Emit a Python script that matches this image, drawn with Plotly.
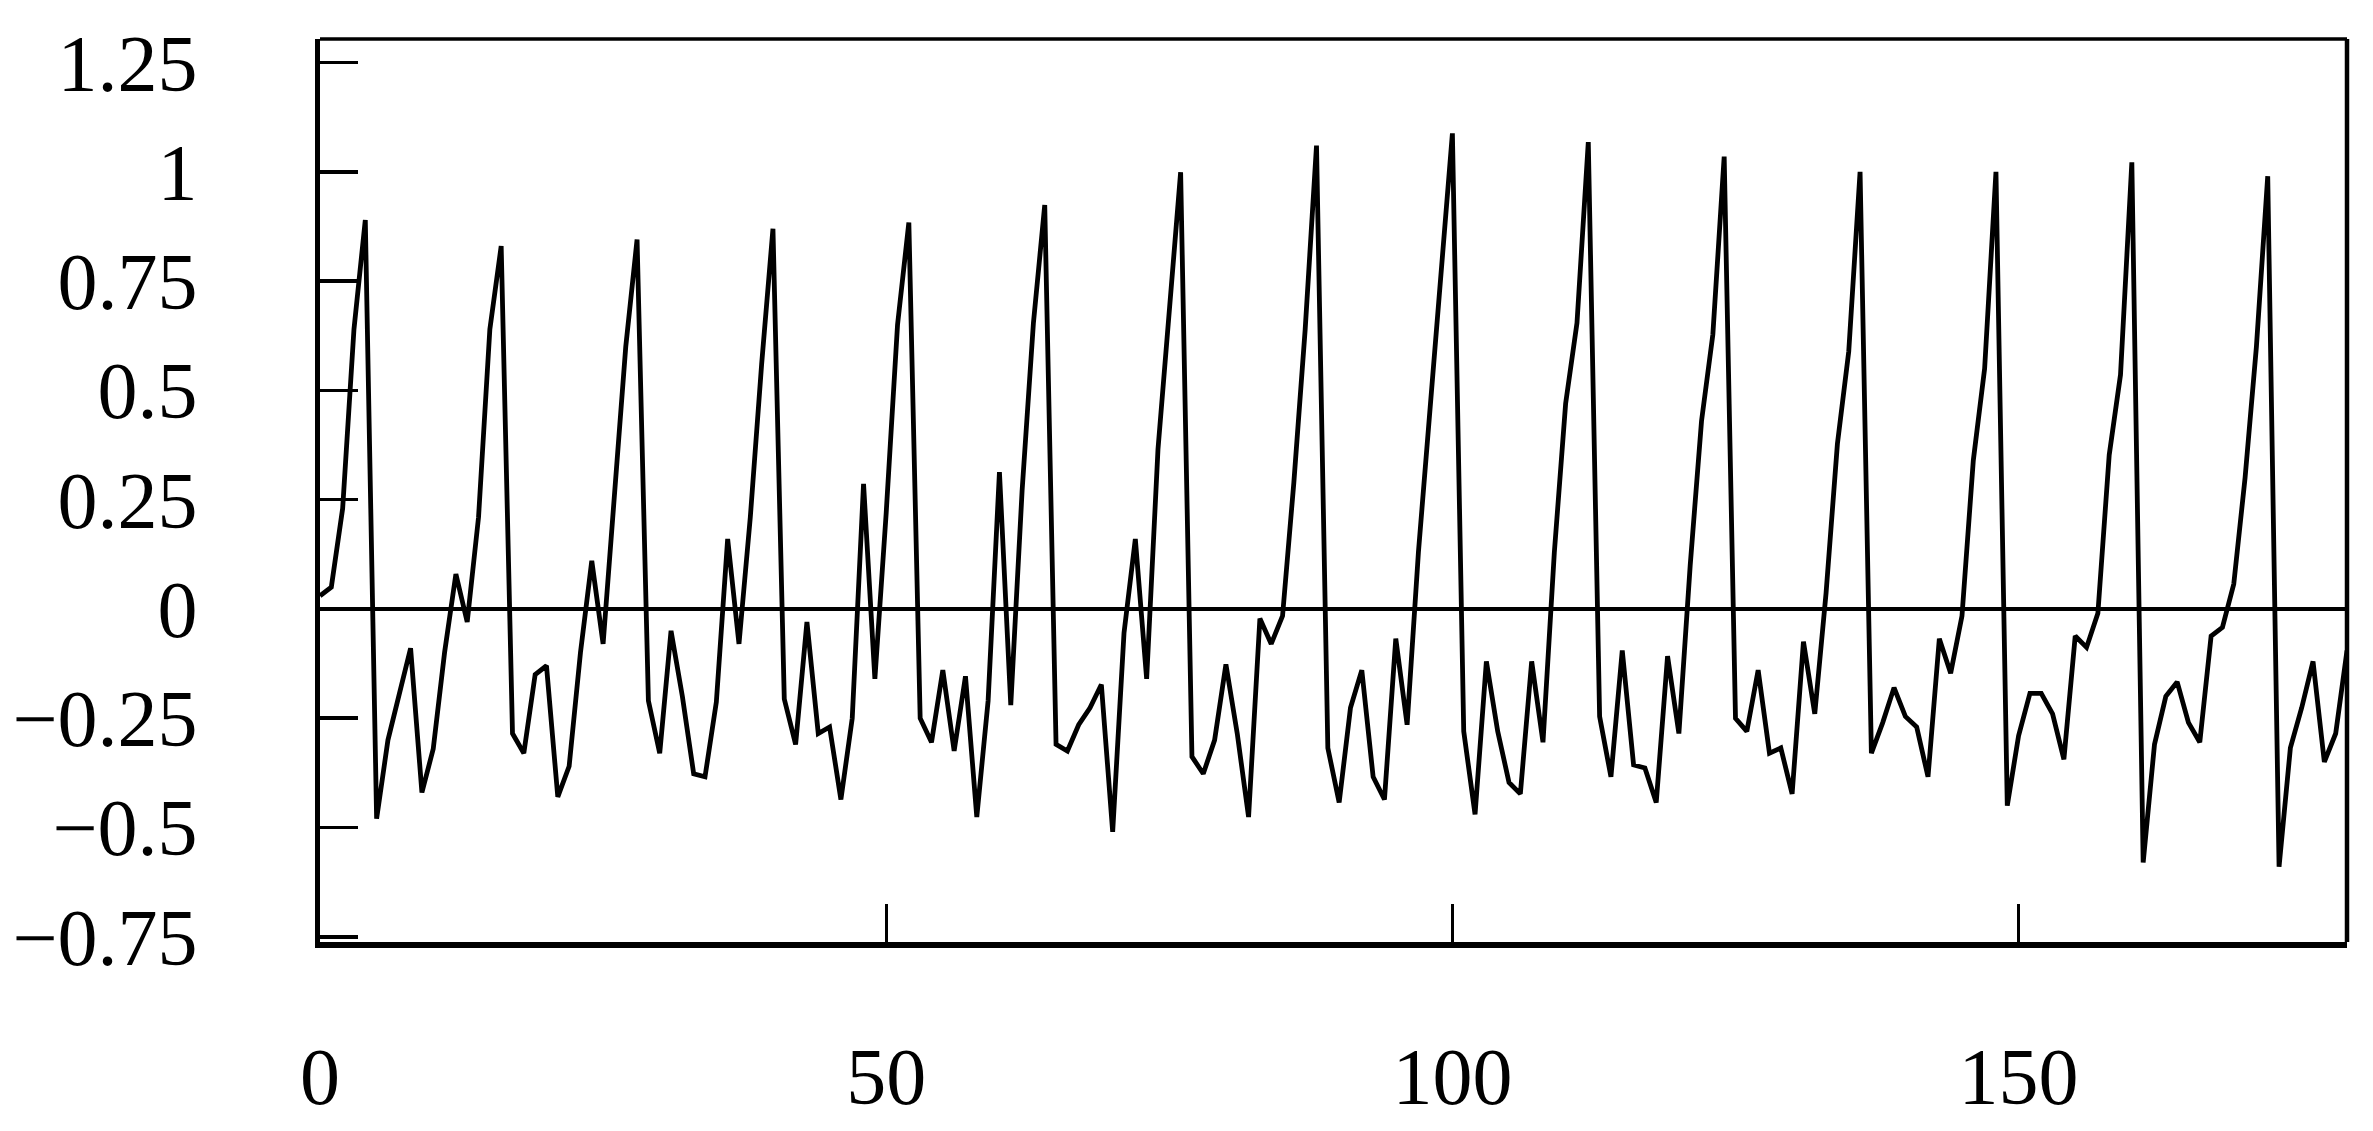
import plotly.graph_objects as go

# ---- data ----
x_index = list(range(180))
values = [
    0.03, 0.05, 0.23, 0.64, 0.89, -0.48, -0.30, -0.19, -0.09, -0.42,
    -0.32, -0.10, 0.08, -0.03, 0.21, 0.64, 0.83, -0.285, -0.33, -0.15,
    -0.13, -0.43, -0.36, -0.10, 0.11, -0.08, 0.25, 0.60, 0.845, -0.21,
    -0.33, -0.05, -0.20, -0.377, -0.384, -0.213, 0.16, -0.08, 0.21, 0.56,
    0.87, -0.206, -0.31, -0.03, -0.285, -0.27, -0.436, -0.25, 0.286, -0.16,
    0.22, 0.65, 0.884, -0.25, -0.305, -0.14, -0.325, -0.154, -0.476, -0.21,
    0.313, -0.22, 0.27, 0.654, 0.924, -0.31, -0.325, -0.265, -0.226, -0.173,
    -0.51, -0.055, 0.16, -0.16, 0.365, 0.667, 0.999, -0.338, -0.377, -0.30,
    -0.127, -0.285, -0.476, -0.022, -0.08, -0.016, 0.29, 0.64, 1.06, -0.318,
    -0.443, -0.226, -0.14, -0.384, -0.436, -0.068, -0.265, 0.13, 0.444, 0.76,
    1.088, -0.28, -0.47, -0.12, -0.28, -0.397, -0.423, -0.12, -0.305, 0.129,
    0.47, 0.654, 1.068, -0.246, -0.384, -0.095, -0.357, -0.364, -0.443, -0.108,
    -0.285, 0.10, 0.43, 0.628, 1.035, -0.25, -0.28, -0.14, -0.33, -0.318,
    -0.423, -0.075, -0.24, 0.037, 0.378, 0.589, 1.0, -0.33, -0.26, -0.18,
    -0.246, -0.27, -0.384, -0.068, -0.147, -0.016, 0.34, 0.55, 1.0, -0.45,
    -0.29, -0.193, -0.193, -0.24, -0.344, -0.062, -0.088, -0.01, 0.352, 0.536,
    1.022, -0.58, -0.31, -0.20, -0.167, -0.26, -0.305, -0.062, -0.042, 0.057,
    0.30, 0.60, 0.99, -0.59, -0.318, -0.226, -0.12, -0.35, -0.285, -0.095,
]
y_tickvals = [1.25, 1, 0.75, 0.5, 0.25, 0, -0.25, -0.5, -0.75]
y_ticktext = ["1.25", "1", "0.75", "0.5", "0.25", "0", "\u22120.25", "\u22120.5", "\u22120.75"]
x_tickvals = [0, 50, 100, 150]
x_ticktext = ["0", "50", "100", "150"]

FONT = "Liberation Serif, Times New Roman, serif"

fig = go.Figure()
fig.add_trace(go.Scatter(
    x=x_index, y=values, mode="lines",
    line=dict(color="black", width=4.8),
    hoverinfo="skip", showlegend=False,
))

fig.update_layout(
    width=2373, height=1131,
    margin=dict(l=320, r=26, t=39, b=189, pad=0),
    paper_bgcolor="white", plot_bgcolor="white",
    font=dict(family=FONT, size=80, color="black"),
    showlegend=False,
    hovermode=False,
    shapes=[
        # top and right frame lines
        dict(type="line", xref="paper", yref="paper", x0=0, x1=1, y0=1, y1=1,
             line=dict(color="black", width=3.5)),
        dict(type="line", xref="paper", yref="paper", x0=1, x1=1, y0=0, y1=1,
             line=dict(color="black", width=4.5)),
    ],
)

fig.update_xaxes(
    range=[0, 179], showgrid=False, zeroline=False, automargin=False,
    showline=True, linecolor="black", linewidth=5.5,
    ticks="inside", ticklen=38, tickwidth=3, tickcolor="black",
    tickvals=x_tickvals, ticktext=x_ticktext,
    ticklabelstandoff=60,
)
fig.update_yaxes(
    range=[-0.762, 1.304], showgrid=False, automargin=False,
    zeroline=True, zerolinecolor="black", zerolinewidth=3.5,
    showline=True, linecolor="black", linewidth=5.5,
    ticks="inside", ticklen=38, tickwidth=3.5, tickcolor="black",
    tickvals=y_tickvals, ticktext=y_ticktext,
    ticklabelstandoff=101,
)

fig.write_html(
    "out.html",
    config={"displayModeBar": False, "staticPlot": True},
    post_script="document.body.style.margin='0';document.body.style.overflow='hidden';",
)
